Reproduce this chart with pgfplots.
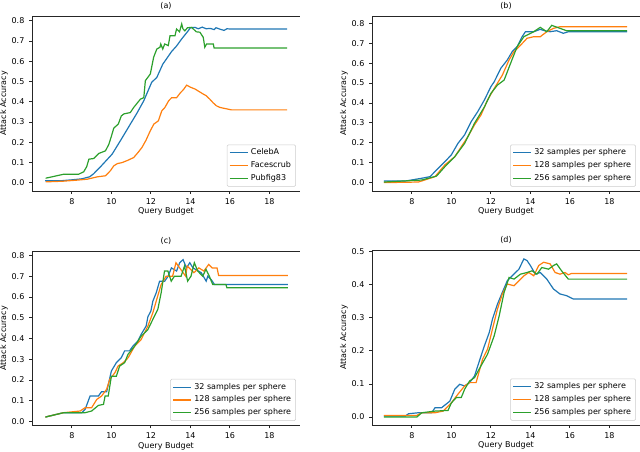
\documentclass[border=0pt]{standalone}
\usepackage{fontspec}
\setmainfont{DejaVu Sans}
\usepackage{pgfplots}
\pgfplotsset{compat=1.18}

\definecolor{mblue}{HTML}{1F77B4}
\definecolor{morange}{HTML}{FF7F0E}
\definecolor{mgreen}{HTML}{2CA02C}

\pgfplotsset{
  panel/.style={
    scale only axis, width=201pt, height=131.25pt,
    anchor=south west,
    xmin=5.98, xmax=19.55,
    axis x line*=box, axis y line*=left,
    axis line style={black!85, line width=0.6pt},
    tick pos=left, tick align=outside,
    major tick length=2.2pt,
    tick style={black!85, line width=0.6pt},
    xtick={8,10,...,18},
    font=\fontsize{6}{7}\selectfont,
    /pgf/number format/assume math mode=true,
    yticklabel style={/pgf/number format/.cd, fixed, fixed zerofill, precision=1},
    xlabel={Query Budget}, ylabel={Attack Accuracy},
    xlabel style={at={(axis description cs:0.5,0)}, anchor=center, yshift=-15.5pt},
    ylabel style={at={(axis description cs:0,0.5)}, anchor=center, rotate=0, yshift=21pt},
    every axis title/.style={at={(axis description cs:0.5,1)}, anchor=base, yshift=5.5pt},
    every axis plot/.append style={line width=0.9pt},
    legend cell align=left,
    legend image code/.code={\draw[##1, line width=0.9pt] (0pt,0pt) -- (13.5pt,0pt);},
    legend style={at={(axis description cs:0.985,0.025)}, anchor=south east,
      draw=black!20, rounded corners=1pt, inner xsep=1.5pt, inner ysep=1pt,
      font=\fontsize{6}{7}\selectfont, row sep=-0.5pt},
  }
}

\begin{document}
\begin{tikzpicture}
\path[use as bounding box] (0,0) rectangle (480pt,339pt);

% (a)
\begin{axis}[panel, at={(24pt,195.75pt)}, title={(a)},
  ymin=-0.04, ymax=0.823, ytick={0,0.1,...,0.8}]
\addplot[mblue] coordinates {
(6.64,0.010)(7.5,0.011)(8.0,0.015)(8.5,0.02)(8.9,0.03)(9.1,0.045)(9.5,0.085)
(10.04,0.142)(10.5,0.215)(10.96,0.29)(11.3,0.345)(11.64,0.405)(12.04,0.496)
(12.3,0.52)(12.6,0.585)(13.05,0.648)(13.3,0.675)(13.56,0.71)(13.89,0.75)
(14.0,0.765)(14.23,0.767)(14.4,0.76)(14.6,0.768)(14.8,0.76)(15.0,0.762)
(15.2,0.756)(15.3,0.765)(15.5,0.758)(15.7,0.752)(15.85,0.76)(16.0,0.759)(18.9,0.759)};
\addlegendentry{CelebA}
\addplot[morange] coordinates {
(6.67,0.005)(7.5,0.008)(8.2,0.013)(8.77,0.018)(9.3,0.03)(9.7,0.035)(9.95,0.06)
(10.12,0.084)(10.3,0.095)(10.54,0.1)(10.8,0.11)(11.13,0.125)(11.35,0.15)
(11.55,0.175)(11.75,0.21)(11.97,0.257)(12.15,0.29)(12.38,0.306)(12.55,0.355)
(12.71,0.372)(12.9,0.405)(13.05,0.42)(13.3,0.42)(13.5,0.445)(13.65,0.46)
(13.81,0.482)(14.0,0.472)(14.23,0.463)(14.45,0.45)(14.65,0.438)(14.8,0.43)
(14.98,0.413)(15.15,0.395)(15.32,0.38)(15.5,0.372)(15.74,0.367)(16.08,0.36)(18.9,0.36)};
\addlegendentry{Facescrub}
\addplot[mgreen] coordinates {
(6.67,0.023)(7.0,0.03)(7.6,0.043)(8.35,0.043)(8.6,0.055)(8.75,0.08)(8.86,0.117)
(9.1,0.12)(9.36,0.145)(9.7,0.158)(9.87,0.19)(10.0,0.23)(10.12,0.27)(10.35,0.29)
(10.5,0.33)(10.63,0.34)(10.96,0.347)(11.13,0.372)(11.47,0.413)(11.64,0.42)
(11.72,0.504)(11.97,0.537)(12.14,0.62)(12.3,0.66)(12.46,0.669)(12.5,0.685)
(12.6,0.66)(12.7,0.685)(12.88,0.677)(12.97,0.726)(13.22,0.726)(13.3,0.759)
(13.45,0.745)(13.56,0.784)(13.62,0.76)(13.72,0.75)(13.85,0.765)(14.06,0.767)
(14.3,0.745)(14.48,0.743)(14.65,0.718)(14.73,0.669)(14.82,0.685)(15.16,0.685)
(15.2,0.665)(18.9,0.665)};
\addlegendentry{Pubfig83}
\end{axis}

% (b)
\begin{axis}[panel, at={(279pt,195.75pt)}, title={(b)},
  ymin=-0.042, ymax=0.837, ytick={0,0.1,...,0.8}]
\addplot[mblue] coordinates {
(6.58,0.008)(7.67,0.008)(8.5,0.022)(8.92,0.03)(9.25,0.064)(9.67,0.105)(10.0,0.14)
(10.33,0.197)(10.67,0.24)(11.0,0.306)(11.33,0.356)(11.67,0.415)(12.0,0.482)
(12.17,0.507)(12.5,0.574)(12.83,0.616)(13.08,0.658)(13.33,0.683)(13.58,0.733)
(13.75,0.758)(14.17,0.758)(14.5,0.77)(14.75,0.762)(15.0,0.758)(15.33,0.763)
(15.67,0.75)(15.92,0.758)(18.9,0.758)};
\addlegendentry{32 samples per sphere}
\addplot[morange] coordinates {
(6.58,0.0)(8.33,0.003)(9.17,0.03)(9.67,0.089)(10.17,0.13)(10.5,0.18)(10.83,0.23)
(11.17,0.29)(11.5,0.34)(11.83,0.415)(12.17,0.473)(12.58,0.54)(12.92,0.616)
(13.17,0.658)(13.5,0.69)(13.83,0.725)(14.17,0.733)(14.5,0.733)(14.83,0.758)
(15.17,0.775)(15.5,0.783)(18.9,0.783)};
\addlegendentry{128 samples per sphere}
\addplot[mgreen] coordinates {
(6.58,0.003)(8.5,0.013)(9.25,0.033)(9.67,0.08)(10.17,0.13)(10.67,0.197)
(11.17,0.298)(11.67,0.38)(12.0,0.448)(12.33,0.49)(12.67,0.515)(13.0,0.6)
(13.33,0.683)(13.67,0.733)(14.17,0.758)(14.5,0.78)(14.83,0.758)(15.08,0.79)
(15.5,0.775)(15.83,0.763)(18.9,0.763)};
\addlegendentry{256 samples per sphere}
\end{axis}

% (c)
\begin{axis}[panel, at={(24pt,20pt)}, height=130.5pt, title={(c)},
  ymin=-0.019, ymax=0.82, ytick={0,0.1,...,0.8}]
\addplot[mblue] coordinates {
(6.66,0.021)(7.58,0.042)(8.5,0.042)(8.67,0.058)(8.92,0.122)(9.34,0.122)(9.5,0.143)
(9.76,0.143)(10.0,0.243)(10.25,0.283)(10.5,0.307)(10.67,0.34)(10.92,0.34)
(11.09,0.363)(11.34,0.387)(11.51,0.42)(11.76,0.46)(11.85,0.505)(12.0,0.532)
(12.1,0.58)(12.27,0.62)(12.44,0.676)(12.7,0.676)(12.87,0.7)(13.04,0.74)
(13.3,0.725)(13.46,0.765)(13.63,0.78)(13.8,0.74)(13.97,0.765)(14.13,0.74)
(14.55,0.717)(14.8,0.676)(14.88,0.7)(15.05,0.684)(15.22,0.66)(18.93,0.66)};
\addlegendentry{32 samples per sphere}
\addplot[morange] coordinates {
(6.66,0.021)(7.58,0.042)(8.42,0.05)(8.67,0.066)(9.0,0.066)(9.26,0.106)(9.5,0.122)
(9.76,0.155)(9.92,0.203)(10.18,0.235)(10.34,0.267)(10.6,0.283)(10.85,0.307)
(11.18,0.363)(11.51,0.395)(11.85,0.46)(12.1,0.524)(12.27,0.58)(12.52,0.66)
(12.77,0.7)(13.1,0.7)(13.27,0.765)(13.51,0.733)(13.76,0.7)(13.84,0.749)
(14.18,0.717)(14.43,0.74)(14.68,0.725)(14.93,0.757)(15.1,0.74)(15.35,0.74)
(15.43,0.703)(18.93,0.703)};
\addlegendentry{128 samples per sphere}
\addplot[mgreen] coordinates {
(6.66,0.021)(7.58,0.042)(8.67,0.042)(9.0,0.05)(9.34,0.077)(9.6,0.082)(9.68,0.122)
(9.84,0.122)(10.0,0.218)(10.25,0.218)(10.42,0.267)(10.67,0.283)(10.84,0.323)
(11.18,0.363)(11.51,0.411)(11.85,0.443)(12.1,0.492)(12.35,0.54)(12.52,0.62)
(12.69,0.725)(12.86,0.725)(13.03,0.676)(13.19,0.7)(13.53,0.7)(13.7,0.749)
(13.86,0.676)(14.03,0.7)(14.2,0.765)(14.37,0.725)(14.62,0.7)(14.79,0.733)
(14.96,0.7)(15.13,0.66)(15.8,0.66)(15.85,0.644)(18.93,0.644)};
\addlegendentry{256 samples per sphere}
\end{axis}

% (d)
\begin{axis}[panel, at={(279pt,20.25pt)}, title={(d)},
  ymin=-0.024, ymax=0.505, ytick={0,0.1,...,0.5}]
\addplot[mblue] coordinates {
(6.58,0.003)(7.67,0.003)(7.83,0.01)(8.33,0.013)(9.0,0.013)(9.17,0.028)(9.5,0.028)
(9.92,0.048)(10.17,0.084)(10.42,0.099)(10.67,0.094)(10.92,0.104)(11.17,0.124)
(11.42,0.17)(11.67,0.215)(11.92,0.256)(12.08,0.296)(12.33,0.341)(12.58,0.377)
(12.83,0.412)(13.08,0.427)(13.42,0.447)(13.67,0.478)(13.83,0.473)(14.0,0.458)
(14.25,0.432)(14.5,0.437)(14.83,0.417)(15.17,0.387)(15.5,0.372)(15.83,0.367)
(16.17,0.357)(18.9,0.357)};
\addlegendentry{32 samples per sphere}
\addplot[morange] coordinates {
(6.58,0.005)(8.25,0.005)(8.5,0.013)(9.17,0.013)(9.58,0.018)(10.0,0.043)
(10.33,0.069)(10.67,0.094)(10.92,0.104)(11.25,0.104)(11.58,0.175)(11.83,0.205)
(12.08,0.266)(12.33,0.326)(12.58,0.372)(12.83,0.402)(13.17,0.397)(13.42,0.412)
(13.67,0.427)(13.92,0.437)(14.17,0.427)(14.42,0.458)(14.67,0.468)(15.0,0.463)
(15.25,0.437)(15.5,0.432)(15.75,0.437)(15.92,0.43)(16.08,0.434)(18.9,0.434)};
\addlegendentry{128 samples per sphere}
\addplot[mgreen] coordinates {
(6.58,0.0)(8.25,0.0)(8.5,0.013)(9.17,0.018)(9.83,0.02)(10.0,0.043)(10.25,0.059)
(10.5,0.059)(10.67,0.084)(10.92,0.109)(11.17,0.119)(11.5,0.155)(11.83,0.19)
(12.17,0.246)(12.42,0.306)(12.67,0.377)(12.92,0.422)(13.17,0.417)(13.5,0.432)
(13.83,0.437)(14.08,0.442)(14.33,0.432)(14.58,0.452)(14.92,0.447)(15.17,0.458)
(15.33,0.463)(15.58,0.442)(15.92,0.417)(18.9,0.417)};
\addlegendentry{256 samples per sphere}
\end{axis}
\end{tikzpicture}
\end{document}
